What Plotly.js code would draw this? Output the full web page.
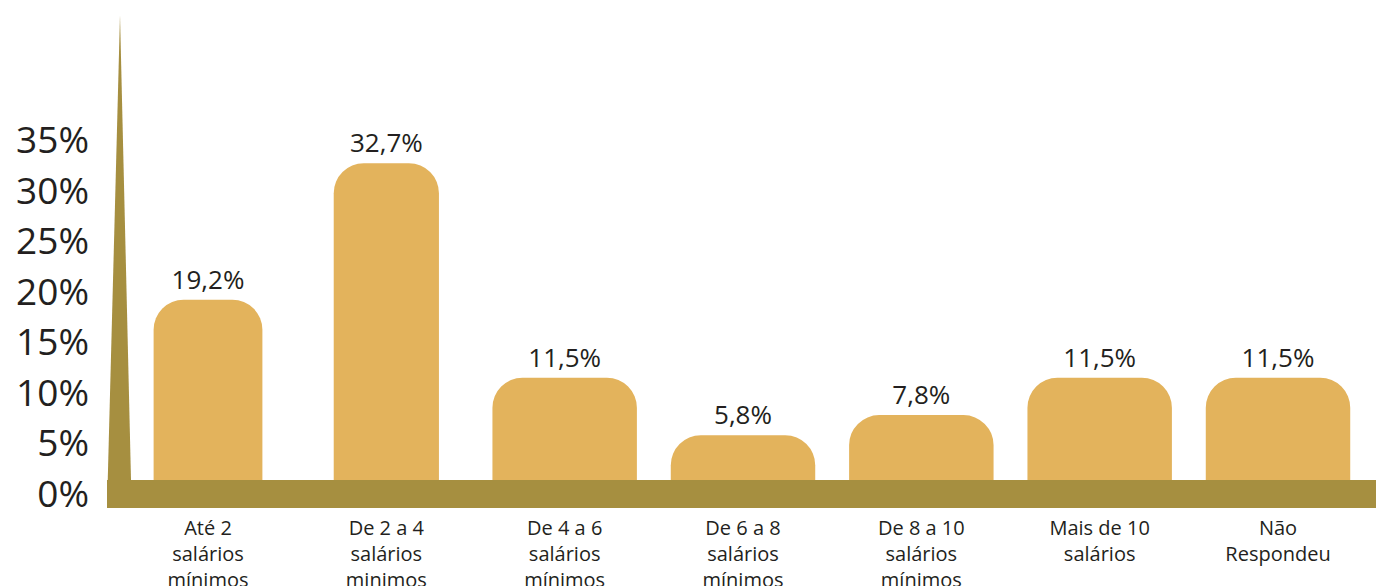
<!DOCTYPE html>
<html>
<head>
<meta charset="utf-8">
<script src="https://cdn.plot.ly/plotly-3.0.1.min.js"></script>
<style>
  html, body { margin: 0; padding: 0; background: #fff; }
  #renda { width: 1376px; height: 586px; }
</style>
</head>
<body>
<div id="renda"></div>
<script>
// Faixas de renda
var faixas = [
  "Até 2<br>salários<br>mínimos",
  "De 2 a 4<br>salários<br>minimos",
  "De 4 a 6<br>salários<br>mínimos",
  "De 6 a 8<br>salários<br>mínimos",
  "De 8 a 10<br>salários<br>mínimos",
  "Mais de 10<br>salários",
  "Não<br>Respondeu"
];
var percentuais = [19.2, 32.7, 11.5, 5.8, 7.8, 11.5, 11.5];
var ticksY = [0, 5, 10, 15, 20, 25, 30, 35];
var ticksYtexto = ["0%", "5%", "10%", "15%", "20%", "25%", "30%", "35%"];

var dourado = "#e3b35c";
var oliva = "#a68f40";
var texto = "#231f20";

var barras = {
  x: faixas,
  y: percentuais,
  type: 'bar',
  width: [0.61, 0.59, 0.81, 0.81, 0.81, 0.81, 0.81],
  marker: { color: dourado, cornerradius: 30, line: { width: 0 } },
  texttemplate: '%{y:.1f}%',
  textposition: 'outside',
  textfont: { family: 'Open Sans', size: 26, color: texto },
  cliponaxis: false,
  hoverinfo: 'skip'
};

// eixo estilizado: ponta vertical + faixa horizontal (em px -> paper)
var L = 100, T = 10, W = 1276, H = 498;
function px(x) { return (x - L) / W; }
function py(y) { return (T + H - y) / H; }

var layout = {
  width: 1376,
  height: 586,
  margin: { l: L, r: 0, t: T, b: 586 - T - H },
  paper_bgcolor: '#fff',
  plot_bgcolor: '#fff',
  showlegend: false,
  separators: ',.',
  font: { family: 'Open Sans', color: texto },
  xaxis: {
    type: 'category',
    range: [-0.6056, 6.5495],
    showgrid: false,
    zeroline: false,
    showline: false,
    ticks: '',
    ticklabelstandoff: 6,
    tickfont: { family: 'Open Sans', size: 20, color: texto },
    fixedrange: true
  },
  yaxis: {
    range: [-1.384, 47.85],
    tickvals: ticksY,
    ticktext: ticksYtexto,
    showgrid: false,
    zeroline: false,
    showline: false,
    ticks: '',
    ticklabelstandoff: 10,
    tickfont: { family: 'Open Sans', size: 37, color: texto },
    fixedrange: true
  },
  shapes: [
    {
      type: 'path', xref: 'paper', yref: 'paper', layer: 'above',
      path: 'M ' + px(107) + ',' + py(508) + ' L ' + px(120) + ',' + py(15) +
            ' L ' + px(131) + ',' + py(480) + ' Z',
      fillcolor: oliva, line: { width: 0 }
    },
    {
      type: 'rect', xref: 'paper', yref: 'paper', layer: 'above',
      x0: px(107), x1: px(1376), y0: py(508), y1: py(480),
      fillcolor: oliva, line: { width: 0 }
    }
  ]
};

Plotly.newPlot('renda', [barras], layout, { displayModeBar: false, staticPlot: true });
</script>
</body>
</html>
